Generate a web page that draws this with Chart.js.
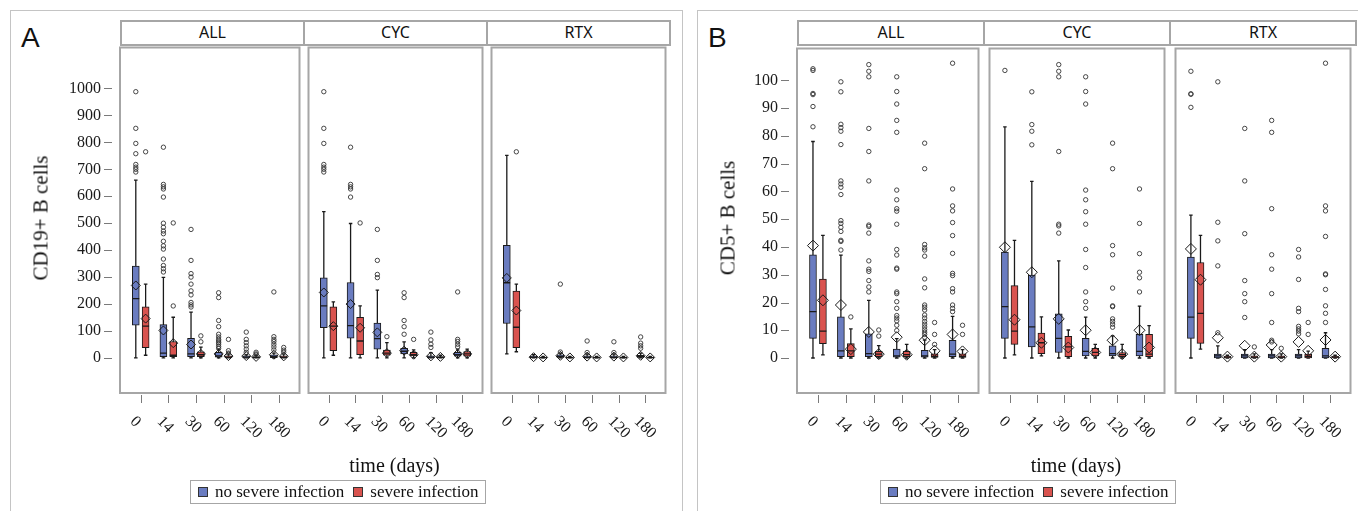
<!DOCTYPE html>
<html>
<head>
<meta charset="utf-8">
<script src="https://cdn.jsdelivr.net/npm/chart.js@4.4.1/dist/chart.umd.min.js"></script>
<style>
  body { margin:0; width:1358px; height:511px; overflow:hidden; background:#fff; position:relative; font-family:'Liberation Serif', serif; color:#111; }
  .panel { position:absolute; top:10px; height:540px; border:1.5px solid #c4c4c4; box-sizing:border-box; }
  .letter { position:absolute; font-family:'Liberation Sans', Arial, sans-serif; font-size:28px; line-height:28px; }
  .strip { position:absolute; top:20px; height:26px; border:2px solid #a6a6a6; box-sizing:border-box; background:#fff;
           font-family:'Noto Sans', sans-serif; font-size:16px; line-height:21px; text-align:center; }
  .ytitle { position:absolute; transform:translate(-50%,-50%) rotate(-90deg); font-size:21px; white-space:nowrap; }
  .xtitle { position:absolute; transform:translate(-50%,-50%); font-size:20px; white-space:nowrap; }
  .legend { position:absolute; top:480px; height:24px; border:1px solid #a6a6a6; box-sizing:border-box; display:flex;
            align-items:center; padding:0 7px; font-size:17px; white-space:nowrap; }
  .sw { width:10px; height:10px; border:1px solid #333; margin-right:7px; box-sizing:border-box; }
  canvas { position:absolute; }
</style>
</head>
<body>
<script>
// boxplot per time: [min, q1, median, q3, max, mean]
const TIMES = ['0', '14', '30', '60', '120', '180'];
const FACETS = ['ALL', 'CYC', 'RTX'];
const GROUPS = ['no severe infection', 'severe infection'];
const Y_TICKS_A = [0, 100, 200, 300, 400, 500, 600, 700, 800, 900, 1000];
const Y_TICKS_B = [0, 10, 20, 30, 40, 50, 60, 70, 80, 90, 100];

// ---- A : CD19+ B cells ----
const A_ALL_NO = [[0,122,220,341,660,269],[0,5,18,124,299,102],[0,5,15,73,170,50],[0,3,8,21,33,15],[0,0,3,8,12,7],[0,1,5,12,18,12]];
const A_ALL_SEV = [[10,38,118,190,274,146],[0,5,10,61,151,55],[0,5,12,23,40,15],[0,1,3,8,15,7],[0,0,2,5,10,4],[0,1,3,8,15,6]];
const A_ALL_NO_OUT = [[988,852,796,758,718,708,700,690],[782,644,635,627,597,500,485,471,461,433,416,404,367,343,331,319],
  [477,362,313,300,274,249,234,206,197,189],[242,224,139,116,88,78,69,63,57,51,43,36],[96,69,57,45,33,21],[245,79,69,61,51,41,30]];
const A_ALL_SEV_OUT = [[765],[501,193],[82,60],[69,27,18],[21,15],[39,29,21]];

const A_CYC_NO = [[0,112,193,297,543,243],[0,73,120,280,499,200],[0,33,72,129,252,95],[0,15,25,36,60,27],[0,0,3,8,20,6],[0,7,12,21,33,15]];
const A_CYC_SEV = [[10,27,118,190,208,118],[0,12,63,151,193,112],[0,10,18,29,57,18],[0,8,12,21,30,12],[0,0,2,5,10,4],[0,7,15,24,33,15]];
const A_CYC_NO_OUT = [[988,852,796,718,708,700,690],[782,644,635,627,597],[477,362,310,298],[242,224,139,116,88],[96,67,51,39],[245,69,61,51,41]];
const A_CYC_SEV_OUT = [[],[501],[79],[69],[],[]];

const A_RTX_NO = [[15,128,279,418,752,297],[0,0,2,6,12,3],[0,2,5,12,18,8],[0,1,3,8,15,5],[0,1,3,8,15,5],[0,2,5,10,18,8]];
const A_RTX_SEV = [[23,38,114,248,274,176],[0,0,1,3,6,2],[0,0,1,3,6,2],[0,0,1,3,6,2],[0,0,1,3,6,2],[0,0,1,3,6,2]];
const A_RTX_NO_OUT = [[],[],[274,22],[63,20],[60,20],[78,55,45,36]];
const A_RTX_SEV_OUT = [[765],[],[],[],[],[]];

// ---- B : CD5+ B cells ----
const B_ALL_NO = [[0,7.1,16.7,37.2,78,40.5],[0,0.5,2.6,14.8,37.1,19.1],[0,0.5,1.6,8.7,20.8,9.4],[0,0.3,0.8,3.2,7,7.5],[0,0.3,0.8,2.8,6.5,6.4],[0,0.5,1.4,6.4,15,8.5]];
const B_ALL_SEV = [[1.1,5.2,9.7,28.4,44.2,20.8],[0,0.5,2.6,5.2,10.5,3.2],[0,0.5,1.4,2.4,4.5,1.4],[0,0.5,1.2,2.4,4.9,1.2],[0,0.2,0.6,1.5,3,2.6],[0,0.2,0.6,1.5,3,2.4]];
const B_ALL_NO_OUT = [[104.2,103.6,95.3,94.9,90.6,83.3],
  [99.5,95.9,84.2,83,81.7,76.9,63.8,62.7,61.5,58.9,49.5,48.5,47.1,45.6,42.4,42,38.9],
  [105.7,103.3,101.3,82.7,74.4,63.8,47.9,47.4,45,35,32,31.2,27.9,25.6,23.8],
  [101.3,96,91.5,85.6,81.3,60.5,57,53.8,52.9,48.2,39.1,37.1,32.4,32,23.8,23.2,20.3,17.9,15.3,14.4,13.4,11.8,9.9],
  [77.4,68.2,40.9,39.7,38.9,36.7,28.5,25.3,19.1,18.3,17.3,15.5,14.4,13.2,12.2,11.2,10.2,9.3,8.5,7.5],
  [106.2,60.9,54.8,53,48.8,44.1,37.7,30.5,29.7,25,23.8,19.1,17.9,16.7]];
const B_ALL_SEV_OUT = [[],[14.8],[10.1,7.9],[],[12.8,8.5,4.9],[11.8,8.5]];

const B_CYC_NO = [[0,7.1,18.5,38.2,83.3,39.9],[0,4,11.2,29.9,63.6,30.9],[0,2,7.1,15.9,35,14.1],[0,0.8,2.4,7.1,14.7,10],[0,0.8,1.6,4.4,8,6.4],[0,0.8,2.4,8.5,18.7,10]];
const B_CYC_SEV = [[1.1,4.9,9.7,26.1,42.4,13.8],[0.8,1.6,5.5,9,14.8,5.5],[0,0.5,4,7.8,10.1,3.8],[0,0.8,2,3.5,4.9,2],[0,0.5,1.2,2,4.9,1.4],[0,0.5,1.4,8.5,11.7,3.8]];
const B_CYC_NO_OUT = [[103.6],[95.9,84.1,81.7,76.8],[105.7,103.3,101.3,74.4,48.2,47.6,45],
  [101.3,96,91.5,60.5,57,52.7,48.2,39.1,32.6,23.8,20.3,17.9],
  [77.4,68.2,40.5,37.2,25.2,18.8,18.5,14.1,13.2,12.2,11.1],[60.9,48.5,37.6,30.9,28.9,23.8]];
const B_CYC_SEV_OUT = [[],[],[],[],[],[]];

const B_RTX_NO = [[0,7.1,14.7,36.4,51.5,39.3],[0,0,0.8,1.4,4.4,7.3],[0,0,0.8,1.4,3,4.4],[0,0,0.8,1.4,3,4.7],[0,0,0.8,1.4,3,5.8],[0,0,0.8,3.5,9.1,6.5]];
const B_RTX_SEV = [[3.2,5.3,16.1,34.4,44.2,28.2],[0,0,0.3,0.6,1,0.5],[0,0,0.3,0.8,1.5,0.5],[0,0,0.3,0.8,1.5,0.5],[0,0,0.6,1.4,2.5,2.6],[0,0,0.3,0.6,1,0.5]];
const B_RTX_NO_OUT = [[103.3,95.2,95,90.3],[99.5,48.9,42.2,33.2,9.1],[82.7,63.8,44.8,27.9,23.2,20.3,14.6],
  [85.6,81.3,53.8,37.2,32,23.2,12.8,6.4,5.8],[39.1,36.4,28.3,17.9,16.7,11.4,10.5,9.7,8.7],
  [106.2,54.8,53,43.8,30.3,30,24.7,18.8,16.1,12.8]];
const B_RTX_SEV_OUT = [[],[],[4],[3.5],[12.8,8.5],[]];

const BLUE = '#6a7cc0';
const RED = '#d9534f';
const INK = '#1a1a1a';
const OFF = 0.178;   // half distance between the pair of boxes (x units)
const HALF = 0.125;  // half box width for the median line
const CAP = 0.065;

const PANELS = [
  { letter: 'A', box: [10, 673], ytitle: 'CD19+ B cells', ytx: 41, left: [120, 303, 486], width: 183, yAxisW: 110,
    yMin: -130, yMax: 1152, ticks: Y_TICKS_A, diamond: 4.5, legendX: 190,
    data: [[A_ALL_NO, A_ALL_SEV, A_ALL_NO_OUT, A_ALL_SEV_OUT], [A_CYC_NO, A_CYC_SEV, A_CYC_NO_OUT, A_CYC_SEV_OUT], [A_RTX_NO, A_RTX_SEV, A_RTX_NO_OUT, A_RTX_SEV_OUT]] },
  { letter: 'B', box: [697, 720], ytitle: 'CD5+ B cells', ytx: 728, left: [797, 983, 1169], width: 186, yAxisW: 97,
    yMin: -12.6, yMax: 111.5, ticks: Y_TICKS_B, diamond: 5.5, legendX: 880,
    data: [[B_ALL_NO, B_ALL_SEV, B_ALL_NO_OUT, B_ALL_SEV_OUT], [B_CYC_NO, B_CYC_SEV, B_CYC_NO_OUT, B_CYC_SEV_OUT], [B_RTX_NO, B_RTX_SEV, B_RTX_NO_OUT, B_RTX_SEV_OUT]] },
];

Chart.defaults.animation = false;
Chart.defaults.font.family = 'Liberation Serif';

function el(cls, css, text) {
  const d = document.createElement('div');
  d.className = cls;
  Object.assign(d.style, css);
  if (text) d.textContent = text;
  document.body.appendChild(d);
  return d;
}

function noPad(s) {
  s.paddingTop = 0; s.paddingBottom = 0; s.paddingLeft = 0; s.paddingRight = 0;
}

// frame, x ticks (rotated labels) and y tick marks
const decor = {
  id: 'decor',
  afterDraw(chart, args, o) {
    const { ctx, chartArea: a, scales } = chart;
    ctx.save();
    ctx.strokeStyle = '#a6a6a6'; ctx.lineWidth = 2;
    ctx.strokeRect(a.left, a.top, a.right - a.left, a.bottom - a.top);
    ctx.strokeStyle = '#7a7a7a'; ctx.lineWidth = 1;
    ctx.fillStyle = INK;
    ctx.font = '16px "Liberation Serif"';
    ctx.textBaseline = 'middle';
    TIMES.forEach((t, i) => {
      const px = Math.round(scales.x.getPixelForValue(i)) + 0.5;
      ctx.beginPath(); ctx.moveTo(px, a.bottom + 2); ctx.lineTo(px, a.bottom + 10); ctx.stroke();
      ctx.save();
      ctx.translate(px - 9, a.bottom + 26);
      ctx.rotate(Math.PI / 4);
      ctx.fillText(t, 0, 0);
      ctx.restore();
    });
    if (o.yAxis) {
      o.ticks.forEach(v => {
        const py = Math.round(scales.y.getPixelForValue(v)) + 0.5;
        ctx.beginPath(); ctx.moveTo(a.left - 16, py); ctx.lineTo(a.left - 8, py); ctx.stroke();
      });
    }
    ctx.restore();
  }
};

function boxSets(rows, out, off, color, diamond) {
  const whisk = [], med = [];
  rows.forEach((r, i) => {
    const x = i + off;
    whisk.push({ x, y: r[0] }, { x, y: r[4] }, { x, y: null },
      { x: x - CAP, y: r[0] }, { x: x + CAP, y: r[0] }, { x, y: null },
      { x: x - CAP, y: r[4] }, { x: x + CAP, y: r[4] }, { x, y: null });
    med.push({ x: x - HALF, y: r[2] }, { x: x + HALF, y: r[2] }, { x, y: null });
  });
  return [
    { type: 'line', data: whisk, borderColor: INK, borderWidth: 1.3, pointRadius: 0, spanGaps: false, order: 5 },
    { type: 'bar', data: rows.map((r, i) => ({ x: i + off, y: [r[1], r[3]] })), backgroundColor: color,
      borderColor: INK, borderWidth: 1, borderSkipped: false, barThickness: 7, grouped: false, order: 4 },
    { type: 'line', data: med, borderColor: INK, borderWidth: 1.3, pointRadius: 0, spanGaps: false, order: 3 },
    { type: 'scatter', data: rows.map((r, i) => ({ x: i + off, y: r[5] })), pointStyle: 'rectRot', pointRadius: diamond,
      borderColor: INK, borderWidth: 1, backgroundColor: 'rgba(0,0,0,0)', order: 2 },
    { type: 'scatter', data: out.flatMap((vals, i) => vals.map(v => ({ x: i + off, y: v }))), pointStyle: 'circle',
      pointRadius: 2.2, borderColor: '#333', borderWidth: 0.9, backgroundColor: 'rgba(0,0,0,0)', order: 1 },
  ];
}

function buildFacet(p, f) {
  const first = f === 0;
  const extra = first ? p.yAxisW : 0;
  const cv = document.createElement('canvas');
  cv.width = p.width + extra + 2;
  cv.height = 413;
  cv.style.left = (p.left[f] - extra) + 'px';
  cv.style.top = '42px';
  document.body.appendChild(cv);

  const [no, sev, noOut, sevOut] = p.data[f];
  new Chart(cv.getContext('2d'), {
    type: 'scatter',
    data: { datasets: [...boxSets(no, noOut, -OFF, BLUE, p.diamond), ...boxSets(sev, sevOut, OFF, RED, p.diamond)] },
    options: {
      responsive: false, maintainAspectRatio: false, events: [],
      layout: { padding: { top: 2, right: 2, left: 0, bottom: 0 } },
      plugins: { legend: { display: false }, tooltip: { enabled: false }, decor: { yAxis: first, ticks: p.ticks } },
      scales: {
        x: { type: 'linear', min: -0.75, max: 5.75, offset: false,
          ticks: { display: false }, grid: { display: false, drawTicks: false }, border: { display: false },
          afterFit: s => { s.height = 62; noPad(s); } },
        y: { type: 'linear', min: p.yMin, max: p.yMax, display: first,
          grid: { display: false, drawTicks: false }, border: { display: false },
          afterBuildTicks: s => { s.ticks = p.ticks.map(v => ({ value: v })); },
          ticks: { padding: 19, color: INK, font: { size: 16 }, callback: v => String(v) },
          afterFit: s => { s.width = extra; noPad(s); } }
      }
    },
    plugins: [decor]
  });
}

PANELS.forEach(p => {
  el('panel', { left: p.box[0] + 'px', width: p.box[1] + 'px' });
  el('letter', { left: (p.box[0] + 11) + 'px', top: '24px' }, p.letter);
  FACETS.forEach((name, f) => {
    el('strip', { left: p.left[f] + 'px', width: (p.width + 2) + 'px' }, name);
    buildFacet(p, f);
  });
  el('ytitle', { left: p.ytx + 'px', top: '218px' }, p.ytitle);
  const plotMid = (p.left[0] + p.left[2] + p.width) / 2;
  el('xtitle', { left: plotMid + 'px', top: '465px' }, 'time (days)');
  const lg = el('legend', { left: p.legendX + 'px' });
  GROUPS.forEach((g, i) => {
    const sw = document.createElement('span');
    sw.className = 'sw';
    sw.style.background = i ? RED : BLUE;
    if (i) sw.style.marginLeft = '9px';
    lg.appendChild(sw);
    lg.appendChild(document.createTextNode(g));
  });
});
</script>
</body>
</html>
